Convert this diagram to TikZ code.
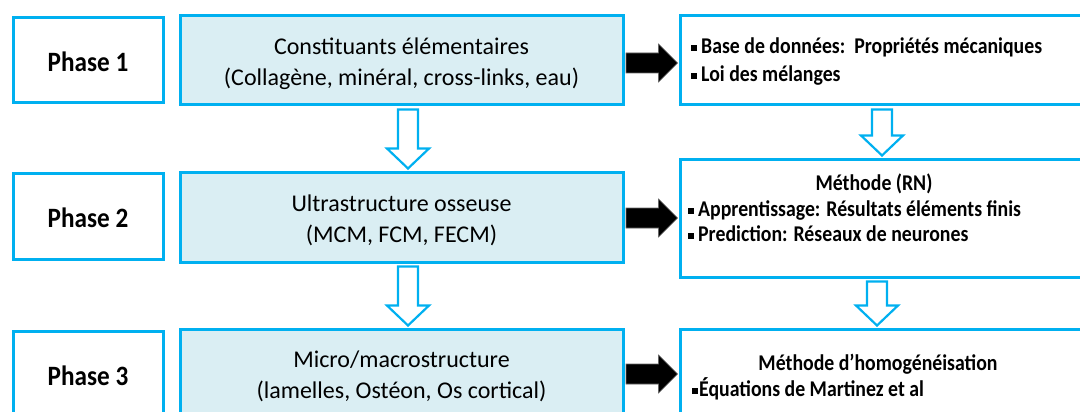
\documentclass[tikz,border=0pt]{standalone}
\usepackage{fontspec}
\setmainfont{Carlito}
\newfontfamily\phfont{Carlito}[FakeStretch=0.9]
\newfontfamily\rbfont{Carlito}[FakeStretch=0.88]
\usetikzlibrary{calc}
\definecolor{cyanb}{HTML}{00B0F0}
\definecolor{lightfill}{HTML}{DAEEF3}
\tikzset{
  phasebox/.style={draw=cyanb, line width=3pt, fill=white, inner sep=0pt},
  midbox/.style={draw=cyanb, line width=3pt, fill=lightfill, inner sep=0pt},
  rightbox/.style={draw=cyanb, line width=3pt, fill=white, inner sep=0pt},
  phasetext/.style={font=\phfont\bfseries\fontsize{28}{30}\selectfont, inner sep=0pt},
  midtext/.style={font=\fontsize{24}{31}\selectfont, align=center, inner sep=0pt},
  rtext/.style={font=\rbfont\bfseries\fontsize{22.5}{25}\selectfont, align=left, inner sep=0pt, anchor=west},
  hollowarrow/.style={draw=cyanb, line width=2.2pt, fill=white, line join=miter},
  solidarrow/.style={fill=black, draw=black!60, line width=0.6pt},
}
\newcommand{\bul}{\rule[2.5pt]{6pt}{6pt}\hspace{4pt}}
% hollow down arrow between two nodes at given x
\newcommand{\hdown}[3]{%
  \draw[hollowarrow] let \p1=(#1.south), \p2=(#2.north), \p3=(#3,0) in
    ({\x3-10pt},{\y1-3pt}) -- ({\x3+10pt},{\y1-3pt}) -- ({\x3+10pt},{\y2+22pt})
    -- ({\x3+21pt},{\y2+22pt}) -- ({\x3},{\y2+2pt}) -- ({\x3-21pt},{\y2+22pt})
    -- ({\x3-10pt},{\y2+22pt}) -- cycle;}
% solid right arrow between two nodes at given y
\newcommand{\sright}[3]{%
  \draw[solidarrow] let \p1=(#1.east), \p2=(#2.west), \p3=(0,#3) in
    ({\x1+1.5pt},{\y3+10pt}) -- ({\x2-20pt},{\y3+10pt}) -- ({\x2-20pt},{\y3+19pt})
    -- ({\x2-1pt},{\y3}) -- ({\x2-20pt},{\y3-19pt}) -- ({\x2-20pt},{\y3-10pt})
    -- ({\x1+1.5pt},{\y3-10pt}) -- cycle;}
\begin{document}
\begin{tikzpicture}[x=1pt,y=-1pt]
\useasboundingbox (0,0) rectangle (1080,412);
\clip (0,0) rectangle (1080,412);
% phase boxes
\node[phasebox, minimum width=150pt, minimum height=85pt] (p1) at (88,60.5) {};
\node[phasebox, minimum width=150pt, minimum height=86pt] (p2) at (88,216) {};
\node[phasebox, minimum width=150pt, minimum height=100pt] (p3) at (88,381) {};
\node[phasetext] (p1t) at (88,62) {Phase 1};
\node[phasetext] (p2t) at (88,218) {Phase 2};
\node[phasetext] (p3t) at (88,376) {Phase 3};
% middle boxes
\node[midbox, minimum width=443pt, minimum height=89pt] (m1) at (401.5,60.5) {};
\node[midbox, minimum width=443pt, minimum height=90pt] (m2) at (401.5,217) {};
\node[midbox, minimum width=443pt, minimum height=100pt] (m3) at (401.5,379) {};
\node[midtext] (m1t) at (401.5,64) {Constituants élémentaires\\(Collagène, minéral, cross-links, eau)};
\node[midtext] (m2t) at (401.5,220) {Ultrastructure osseuse\\(MCM, FCM, FECM)};
\node[midtext] (m3t) at (401.5,376) {Micro/macrostructure\\(lamelles, Ostéon, Os cortical)};
% right boxes
\node[rightbox, minimum width=420pt, minimum height=89pt] (r1) at (890,60.5) {};
\node[rightbox, minimum width=420pt, minimum height=118pt] (r2) at (890,218) {};
\node[rightbox, minimum width=420pt, minimum height=100pt] (r3) at (890,379) {};
\node[rtext] (r1t) at (691,62) {\bul Base de données:\ \ Propriétés mécaniques\\[3pt]\bul Loi des mélanges};
\node[rtext, anchor=center] (r2h) at (874,184) {Méthode (RN)};
\node[rtext] (r2t) at (688,221) {\bul Apprentissage: Résultats éléments finis\\\bul Prediction: Réseaux de neurones};
\node[rtext, anchor=center] (r3h) at (878,364) {Méthode d’homogénéisation};
\node[rtext] (r3t) at (692,389) {\rule[2.5pt]{6pt}{6pt}\hspace{1pt}Équations de Martinez et al};
% arrows
\hdown{m1}{m2}{408}
\hdown{m2}{m3}{408}
\hdown{r1}{r2}{882}
\hdown{r2}{r3}{877}
\sright{m1}{r1}{63}
\sright{m2}{r2}{218}
\sright{m3}{r3}{374}
\end{tikzpicture}
\end{document}
